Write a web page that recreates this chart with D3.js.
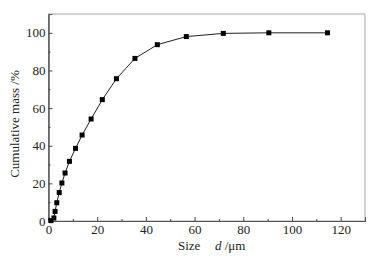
<!DOCTYPE html>
<html><head><meta charset="utf-8">
<script src="https://cdn.jsdelivr.net/npm/d3@7"></script>
<style>body{margin:0;background:#fff}svg{display:block}text{font-family:'Liberation Serif','Times New Roman',serif}</style>
</head><body>
<svg id="c" width="376" height="259"></svg>
<script>
const sizes = [1.0, 2.2, 2.7, 3.4, 4.4, 5.5, 6.8, 8.6, 11.1, 13.8, 17.5, 22.1, 27.9, 35.5, 44.7, 56.6, 71.8, 90.5, 114.6];
const cumulative = [0.2, 1.6, 5.1, 9.7, 15.1, 20.2, 25.5, 31.7, 38.6, 45.7, 54.2, 64.5, 75.6, 86.4, 93.7, 98.0, 99.7, 100, 100];
const xTicks = [0, 20, 40, 60, 80, 100, 120];
const yTicks = [0, 20, 40, 60, 80, 100];
const xMinor = [10, 30, 50, 70, 90, 110];
const yMinor = [10, 30, 50, 70, 90];

const svg = d3.select("#c");
const L = 48.5, R = 365, T = 14, B = 221;
const x = d3.scaleLinear().domain([0, 130]).range([L, R]);
const y = d3.scaleLinear().domain([0, 110]).range([B, T]);
const font = "'Liberation Serif', 'Times New Roman', serif";

svg.append("rect").attr("x", L).attr("y", T).attr("width", R - L).attr("height", B - T)
  .attr("fill", "none").attr("stroke", "#a8a8a8").attr("stroke-width", 1);

const xa = svg.append("g").attr("transform", `translate(0,${B})`)
  .call(d3.axisBottom(x).tickValues(xTicks).tickSize(-4).tickPadding(4).tickFormat(d3.format("d")));
const xm = svg.append("g").attr("transform", `translate(0,${B})`)
  .call(d3.axisBottom(x).tickValues(xMinor).tickSize(-2).tickFormat(""));
const ya = svg.append("g").attr("transform", `translate(${L},0)`)
  .call(d3.axisLeft(y).tickValues(yTicks).tickSize(-4).tickPadding(3).tickFormat(d3.format("d")));
const ym = svg.append("g").attr("transform", `translate(${L},0)`)
  .call(d3.axisLeft(y).tickValues(yMinor).tickSize(-2).tickFormat(""));
[xa, xm, ya, ym].forEach(g => {
  g.attr("font-family", font).attr("font-size", 13);
  g.select(".domain").attr("stroke", "#555");
  g.selectAll(".tick line").attr("stroke", "#444");
  g.selectAll("text").attr("font-family", font).attr("font-size", 13).attr("fill", "#222");
});

const pts = sizes.map((s, i) => [s, cumulative[i]]);
svg.append("path").datum(pts)
  .attr("fill", "none").attr("stroke", "#222").attr("stroke-width", 1)
  .attr("d", d3.line().x(d => x(d[0])).y(d => y(d[1])));
svg.append("g").selectAll("rect").data(pts).join("rect")
  .attr("x", d => x(d[0]) - 2.5).attr("y", d => y(d[1]) - 2.5)
  .attr("width", 5).attr("height", 5).attr("fill", "#000");

svg.append("text").attr("transform", `translate(19,124) rotate(-90)`)
  .attr("text-anchor", "middle").attr("font-family", font).attr("font-size", 13).attr("fill", "#222")
  .text("Cumulative mass /%");
const xl = svg.append("text").attr("x", 178).attr("y", 250).attr("text-anchor", "start")
  .attr("font-family", font).attr("font-size", 13).attr("fill", "#222");
xl.append("tspan").text("Size");
xl.append("tspan").attr("x", 215).attr("font-style", "italic").text("d");
xl.append("tspan").text(" /μm");
</script>
</body></html>
